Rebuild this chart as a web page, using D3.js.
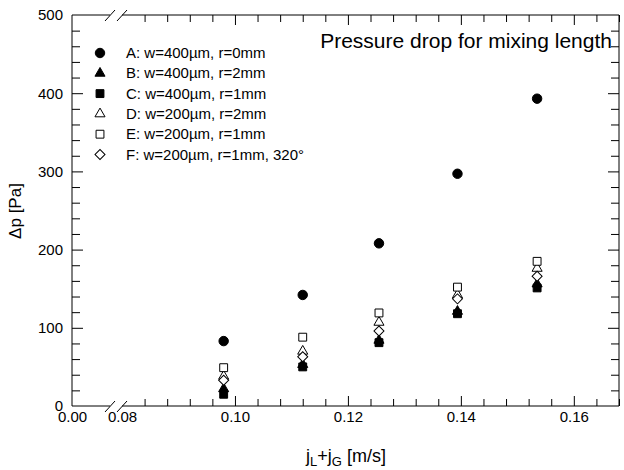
<!DOCTYPE html>
<html>
<head>
<meta charset="utf-8">
<title>Pressure drop for mixing length</title>
<style>
  body { margin: 0; background: #fff; }
  svg { font-family: "Liberation Sans", Arial, sans-serif; }
  .tick line { stroke: #000; }
  .tick text { fill: #000; }
</style>
</head>
<body>
<svg width="624" height="470"></svg>
<script src="https://d3js.org/d3.v7.min.js"></script>
<script>
// superficial velocity jL+jG [m/s]
var xVals = [0.098, 0.112, 0.1255, 0.1394, 0.1535];

// pressure drop [Pa] per geometry
var seriesA = [83, 142, 208, 297, 393];
var seriesB = [22, 53, 84, 121, 156];
var seriesC = [15, 50, 81, 118, 151];
var seriesD = [38, 70, 107, 142, 176];
var seriesE = [49, 88, 119, 152, 185];
var seriesF = [33, 63, 96, 137, 166];

var labels = [
  "A: w=400\u00b5m, r=0mm",
  "B: w=400\u00b5m, r=2mm",
  "C: w=400\u00b5m, r=1mm",
  "D: w=200\u00b5m, r=2mm",
  "E: w=200\u00b5m, r=1mm",
  "F: w=200\u00b5m, r=1mm, 320\u00b0"
];

var xMajor = [0.10, 0.12, 0.14, 0.16];
var xLabelTicks = [0, 0.08, 0.10, 0.12, 0.14, 0.16];
var yMajor = [0, 100, 200, 300, 400, 500];

var svg = d3.select("svg");
var pLeft = 72, pRight = 619, pTop = 15, pBottom = 406;

// broken x axis: 0 .. 0.08 is squeezed into the gap
var x = d3.scaleLinear().domain([0, 0.08, 0.168]).range([pLeft, 122, pRight]);
var y = d3.scaleLinear().domain([0, 500]).range([pBottom, pTop]);

var xMinor = d3.range(0.084, 0.1681, 0.004).filter(function(v) {
  return xMajor.every(function(m) { return Math.abs(m - v) > 1e-6; });
});
var yMinor = d3.range(20, 500, 20).filter(function(v) { return v % 100 !== 0; });

function noDomain(g) { g.select(".domain").remove(); }

// ticks, all pointing inwards
svg.append("g").attr("transform", "translate(0," + pBottom + ")")
  .call(d3.axisBottom(x).tickValues(xMinor).tickSize(-7).tickFormat("")).call(noDomain);
svg.append("g").attr("transform", "translate(0," + pBottom + ")")
  .call(d3.axisBottom(x).tickValues(xMajor).tickSize(-10).tickFormat("")).call(noDomain);
svg.append("g").attr("transform", "translate(0," + pTop + ")")
  .call(d3.axisTop(x).tickValues(xMinor).tickSize(-7).tickFormat("")).call(noDomain);
svg.append("g").attr("transform", "translate(0," + pTop + ")")
  .call(d3.axisTop(x).tickValues(xMajor).tickSize(-10).tickFormat("")).call(noDomain);

svg.append("g").attr("transform", "translate(" + pLeft + ",0)")
  .call(d3.axisLeft(y).tickValues(yMinor).tickSize(-8).tickFormat("")).call(noDomain);
svg.append("g").attr("transform", "translate(" + pLeft + ",0)")
  .call(d3.axisLeft(y).tickValues(yMajor.slice(1, 5)).tickSize(-11).tickFormat("")).call(noDomain);
svg.append("g").attr("transform", "translate(" + pRight + ",0)")
  .call(d3.axisRight(y).tickValues(yMinor).tickSize(-8).tickFormat("")).call(noDomain);
svg.append("g").attr("transform", "translate(" + pRight + ",0)")
  .call(d3.axisRight(y).tickValues(yMajor.slice(1, 5)).tickSize(-11).tickFormat("")).call(noDomain);

// tick labels
svg.append("g").attr("transform", "translate(0," + pBottom + ")")
  .call(d3.axisBottom(x).tickValues(xLabelTicks).tickSize(0).tickPadding(5).tickFormat(d3.format(".2f")))
  .call(noDomain)
  .attr("font-size", 15).attr("font-family", null);
svg.append("g").attr("transform", "translate(" + pLeft + ",0)")
  .call(d3.axisLeft(y).tickValues(yMajor).tickSize(0).tickPadding(9).tickFormat(d3.format("d")))
  .call(noDomain)
  .attr("font-size", 15).attr("font-family", null);

// frame with axis breaks
var frame = svg.append("g").attr("stroke", "#000").attr("stroke-width", 1).attr("fill", "none");
var gapL = 110, gapR = 122;
[pBottom, pTop].forEach(function(yy) {
  frame.append("line").attr("x1", pLeft).attr("x2", gapL).attr("y1", yy).attr("y2", yy);
  frame.append("line").attr("x1", gapR).attr("x2", pRight).attr("y1", yy).attr("y2", yy);
  frame.append("line").attr("x1", gapL - 5).attr("x2", gapL + 5).attr("y1", yy + 6).attr("y2", yy - 5);
  frame.append("line").attr("x1", gapR - 5).attr("x2", gapR + 5).attr("y1", yy + 6).attr("y2", yy - 5);
});
frame.append("line").attr("x1", pLeft).attr("x2", pLeft).attr("y1", pTop).attr("y2", pBottom);
frame.append("line").attr("x1", pRight).attr("x2", pRight).attr("y1", pTop).attr("y2", pBottom);

// markers
var sym = [
  { type: d3.symbolCircle, size: 70, fill: "#000", rot: 0 },
  { type: d3.symbolTriangle, size: 44, fill: "#000", rot: 0 },
  { type: d3.symbolSquare, size: 62, fill: "#000", rot: 0 },
  { type: d3.symbolTriangle, size: 44, fill: "#fff", rot: 0 },
  { type: d3.symbolSquare, size: 62, fill: "#fff", rot: 0 },
  { type: d3.symbolSquare, size: 50, fill: "#fff", rot: 45 }
];
var series = [seriesA, seriesB, seriesC, seriesD, seriesE, seriesF];

series.forEach(function(vals, i) {
  var s = sym[i];
  svg.append("g").selectAll("path").data(vals).join("path")
    .attr("d", d3.symbol().type(s.type).size(s.size))
    .attr("transform", function(d, j) {
      return "translate(" + x(xVals[j]) + "," + y(d) + ") rotate(" + s.rot + ")";
    })
    .attr("fill", s.fill).attr("stroke", "#000").attr("stroke-width", 1);
});

// legend
var lg = svg.append("g");
labels.forEach(function(t, i) {
  var s = sym[i], ly = 53 + i * 20.3;
  lg.append("path").attr("d", d3.symbol().type(s.type).size(s.size))
    .attr("transform", "translate(100," + ly + ") rotate(" + s.rot + ")")
    .attr("fill", s.fill).attr("stroke", "#000");
  lg.append("text").attr("x", 126).attr("y", ly + 5).attr("font-size", 15).text(t);
});

// title and axis titles
svg.append("text").attr("x", 612).attr("y", 48).attr("text-anchor", "end")
  .attr("font-size", 21).text("Pressure drop for mixing length");

svg.append("text").attr("transform", "translate(21,211) rotate(-90)").attr("text-anchor", "middle")
  .attr("font-size", 17).text("\u0394p [Pa]");

var xt = svg.append("text").attr("x", 346).attr("y", 462).attr("text-anchor", "middle").attr("font-size", 18);
xt.append("tspan").text("j");
xt.append("tspan").attr("font-size", 13).attr("dy", 4).text("L");
xt.append("tspan").attr("dy", -4).text("+j");
xt.append("tspan").attr("font-size", 13).attr("dy", 4).text("G");
xt.append("tspan").attr("dy", -4).text(" [m/s]");
</script>
</body>
</html>
